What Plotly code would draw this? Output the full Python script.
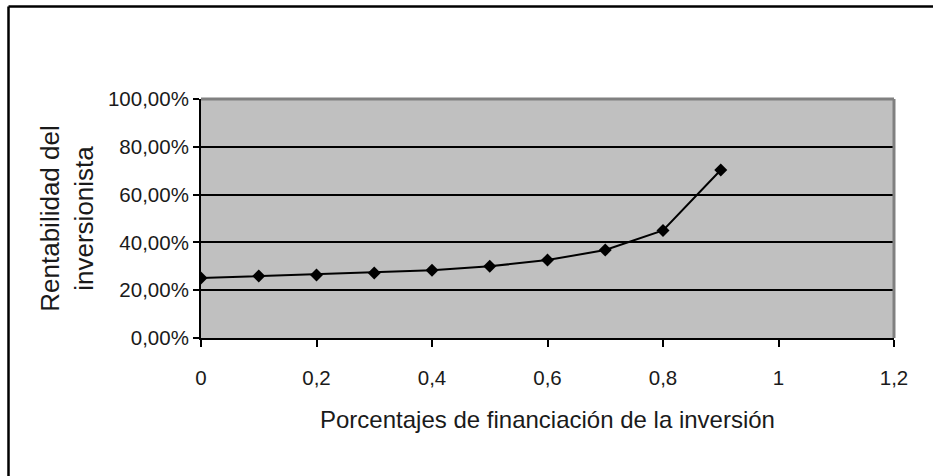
import plotly.graph_objects as go

# Data
financing_share = [0.0, 0.1, 0.2, 0.3, 0.4, 0.5, 0.6, 0.7, 0.8, 0.9]
investor_return = [0.251, 0.259, 0.264, 0.272, 0.283, 0.300, 0.326, 0.368, 0.450, 0.703]

x_title = "Porcentajes de financiación de la inversión"
y_title = "Rentabilidad del<br>inversionista"

W, H = 933, 476
ML, MT = 201, 99
MR = W - 894
MB = H - 338
PW, PH = W - ML - MR, H - MT - MB

def fx(p):
    """figure pixel x -> paper coordinate"""
    return (p - ML) / PW

def fy(p):
    """figure pixel y (from top) -> paper coordinate"""
    return (H - MB - p) / PH

FONT = "Liberation Sans, Arial, sans-serif"

fig = go.Figure()
fig.add_trace(go.Scatter(
    x=financing_share, y=investor_return,
    mode="lines+markers",
    line=dict(color="#000000", width=2),
    marker=dict(symbol="diamond", size=10, color="#000000"),
    showlegend=False,
))

fig.update_layout(
    width=W, height=H,
    margin=dict(l=ML, r=MR, t=MT, b=MB),
    paper_bgcolor="#ffffff",
    plot_bgcolor="#c0c0c0",
    separators=",.",
    font=dict(family=FONT, color="#1a1a1a"),
    xaxis=dict(
        range=[0, 1.2], dtick=0.2, tick0=0,
        showgrid=False, zeroline=False,
        showline=True, linecolor="#000000", linewidth=2,
        ticks="outside", ticklen=7, tickwidth=2, tickcolor="#000000",
        tickfont=dict(size=20.5, family=FONT, color="#1a1a1a"),
        ticklabelstandoff=13,
        title=dict(text=x_title, font=dict(size=24, family=FONT, color="#1a1a1a"), standoff=24),
    ),
    yaxis=dict(
        range=[0, 1], dtick=0.2, tick0=0, tickformat=".2%",
        showgrid=True, gridcolor="#000000", gridwidth=2,
        zeroline=False,
        showline=True, linecolor="#000000", linewidth=2,
        ticks="outside", ticklen=6, tickwidth=2, tickcolor="#000000",
        tickfont=dict(size=20.5, family=FONT, color="#1a1a1a"),
        ticklabelstandoff=0,
        title=dict(text=y_title, font=dict(size=26, family=FONT, color="#1a1a1a"), standoff=7),
    ),
)

# gray plot-area border (top and right)
fig.add_shape(type="line", xref="paper", yref="paper", x0=0, x1=1, y0=1, y1=1,
              line=dict(color="#808080", width=3), layer="above")
fig.add_shape(type="line", xref="paper", yref="paper", x0=1, x1=1, y0=0, y1=1,
              line=dict(color="#808080", width=3), layer="above")

# outer frame (top and left edges visible)
fig.add_shape(type="line", xref="paper", yref="paper",
              x0=fx(8.5), x1=fx(W + 20), y0=fy(6.5), y1=fy(6.5),
              line=dict(color="#000000", width=2.5))
fig.add_shape(type="line", xref="paper", yref="paper",
              x0=fx(8.5), x1=fx(8.5), y0=fy(6.5), y1=fy(H + 20),
              line=dict(color="#000000", width=2.5))

fig.write_html(
    "out.html",
    config={"displayModeBar": False},
    post_script="document.body.style.margin='0';document.body.style.overflow='hidden';",
)
